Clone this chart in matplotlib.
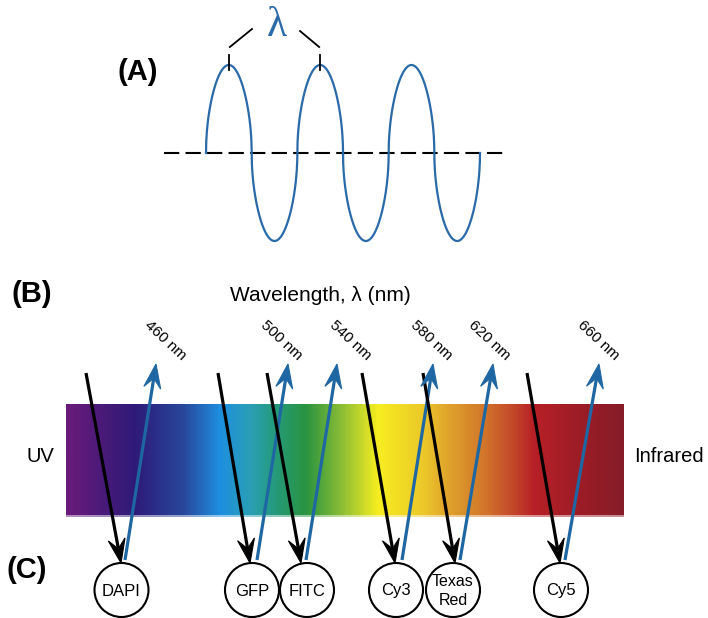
import numpy as np
import matplotlib
matplotlib.use("Agg")
import matplotlib.pyplot as plt
from matplotlib.colors import LinearSegmentedColormap
from matplotlib.patches import Circle, Polygon

plt.rcParams['font.family'] = ['Liberation Sans', 'DejaVu Sans']
plt.rcParams['lines.scale_dashes'] = False

# ---------------- data ----------------
dyes = ["DAPI", "GFP", "FITC", "Cy3", "Texas\nRed", "Cy5"]
emission_labels = ["460 nm", "500 nm", "540 nm", "580 nm", "620 nm", "660 nm"]
panel_labels = ["(A)", "(B)", "(C)"]
axis_title = "Wavelength, λ (nm)"
left_label = "UV"
right_label = "Infrared"
n_half_waves = 6

# spectrum colour stops (fraction along bar, colour)
spec_pos = [0.0, 0.12, 0.21, 0.275, 0.33, 0.375, 0.43, 0.495, 0.56, 0.64, 0.685, 0.75, 0.80, 0.84, 0.93, 1.0]
spec_col = ["#6a1b7a", "#2e1a78", "#28489c", "#1e8fe0", "#2a9fb5", "#259a7a", "#2a9440",
            "#8cbe35", "#f7ee20", "#ecc82a", "#e0a42c", "#d2772a", "#c44a2a", "#b82026",
            "#9a1c26", "#861c28"]

# ---------------- layout (pixel coords) ----------------
W, H = 708, 618
circle_x = [121.5, 252, 307, 396, 453, 561]
circle_y, circle_r = 590, 27
ex_top_x = [86, 218, 267, 362, 423, 527]
ex_tip_x = [121, 250, 301, 395, 455, 560]
em_base_x = [125, 257, 306, 402, 460, 565]
em_tip_x = [156, 288, 337, 433, 493, 599]
label_end_x = [181, 297, 366, 447, 505, 614]
bar_x0, bar_x1, bar_y0, bar_y1 = 65.5, 623.5, 404, 515

BLUE = "#1f67a3"
WAVE = "#2a6aa8"

fig = plt.figure(figsize=(W / 100, H / 100), dpi=100)
ax = fig.add_axes([0, 0, 1, 1])
ax.set_xlim(0, W)
ax.set_ylim(H, 0)
ax.axis("off")

# ---------------- panel A: wave ----------------
base_y, amp = 153, 88
wx0, wx1 = 206, 480
ax.plot([164, 503], [base_y, base_y], color="black", lw=1.5, dashes=[11, 4.5], zorder=1)
t = np.linspace(0, n_half_waves, 2000)
s = np.sin(np.pi * t)
yw = base_y - amp * np.sign(s) * np.abs(s) ** 0.5
xw = wx0 + (wx1 - wx0) * t / n_half_waves
ax.plot(xw, yw, color=WAVE, lw=1.6, zorder=2)

half = (wx1 - wx0) / n_half_waves
p1 = wx0 + half / 2
p2 = wx0 + 2.5 * half
for px in (p1, p2):
    ax.plot([px, px], [55, 70], color="black", lw=1.3, zorder=3)
ax.plot([p1 + 1, 252], [47, 29], color="black", lw=1.3)
ax.plot([300, p2 - 1], [31, 47], color="black", lw=1.3)
ax.text(277, 36, "λ", color=WAVE, fontsize=30, family=["Liberation Serif", "DejaVu Serif"],
        ha="center", va="baseline")

# ---------------- panel labels ----------------
ax.text(138, 80, panel_labels[0], fontsize=21, fontweight="bold", ha="center", va="baseline")
ax.text(32, 302, panel_labels[1], fontsize=21, fontweight="bold", ha="center", va="baseline")
ax.text(27, 578, panel_labels[2], fontsize=21, fontweight="bold", ha="center", va="baseline")

ax.text(320, 301, axis_title, fontsize=15, ha="center", va="baseline")
ax.text(40, 456, left_label, fontsize=14.5, ha="center", va="center")
ax.text(669, 457, right_label, fontsize=14.5, ha="center", va="center")

# ---------------- spectrum bar ----------------
cmap = LinearSegmentedColormap.from_list("spec", list(zip(spec_pos, spec_col)))
grad = np.linspace(0, 1, 600)[None, :]
ax.imshow(grad, cmap=cmap, aspect="auto", extent=[bar_x0, bar_x1, bar_y1, bar_y0],
          interpolation="bilinear", zorder=0)
ax.imshow(grad, cmap=cmap, aspect="auto", extent=[bar_x0, bar_x1, bar_y1 + 2, bar_y1 - 1],
          interpolation="bilinear", zorder=0, alpha=0.5)


def stealth(tip, tail, color, L=24, w=8.5, notch=0.6):
    tip = np.asarray(tip, float)
    tail = np.asarray(tail, float)
    d = tip - tail
    d /= np.hypot(*d)
    n = np.array([-d[1], d[0]])
    pts = [tip, tip - L * d + w * n, tip - notch * L * d, tip - L * d - w * n]
    ax.add_patch(Polygon(pts, closed=True, facecolor=color, edgecolor=color, lw=0.8, zorder=6))
    return tip - notch * L * d


ex_top_y, ex_tip_y = 373, 563
em_base_y, em_tip_y = 560, 364

for i in range(len(dyes)):
    # excitation (black)
    end = stealth((ex_tip_x[i], ex_tip_y), (ex_top_x[i], ex_top_y), "black")
    ax.plot([ex_top_x[i], end[0]], [ex_top_y, end[1]], color="black", lw=2.3,
            solid_capstyle="butt", zorder=5)
    # emission (blue)
    end = stealth((em_tip_x[i], em_tip_y), (em_base_x[i], em_base_y), BLUE)
    ax.plot([em_base_x[i], end[0]], [em_base_y, end[1]], color=BLUE, lw=2.3,
            solid_capstyle="butt", zorder=5)
    # wavelength label
    ax.text(label_end_x[i], 361, emission_labels[i], fontsize=11, rotation=-43,
            rotation_mode="anchor", ha="right", va="baseline", zorder=7)
    # dye circle
    ax.add_patch(Circle((circle_x[i], circle_y), circle_r, facecolor="white",
                        edgecolor="black", lw=1.5, zorder=4))
    fs = 11.5 if "\n" in dyes[i] else 12
    ax.text(circle_x[i], circle_y + 1, dyes[i], fontsize=fs, ha="center", va="center",
            linespacing=1.3, zorder=7)

fig.savefig("out.png", dpi=100)
